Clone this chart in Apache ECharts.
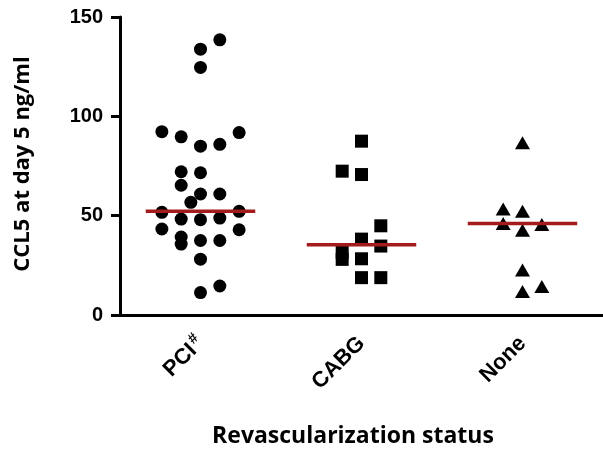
<!DOCTYPE html>
<html>
<head>
<meta charset="utf-8">
<script src="https://cdn.jsdelivr.net/npm/echarts@6/dist/echarts.min.js"></script>
<style>
  html, body { margin: 0; padding: 0; background: #fff; }
  #chart { width: 603px; height: 455px; }
</style>
</head>
<body>
<div id="chart"></div>
<script>
// groups on the x axis
const categories = ['PCI#', 'CABG', 'None'];
const yTicks = [0, 50, 100, 150];

// CCL5 values, with the column each dot sits in
const pciValues = [138.5, 133.8, 124.6, 92.3, 89.7, 85.0, 85.9, 91.8, 72.1, 71.6, 65.3, 60.9, 60.9, 56.7,
  51.7, 52.2, 48.3, 48.0, 48.8, 43.3, 42.9, 39.2, 35.7, 37.5, 37.5, 28.1, 14.6, 11.3];
const pciJitter = [1, 0, 0, -2, -1, 0, 1, 2, -1, 0, -1, 0, 1, -0.5,
  -2, 2, -1, 0, 1, -2, 2, -1, -1, 0, 1, 0, 1, 0];

const cabgValues = [87.5, 72.4, 70.7, 44.9, 38.2, 34.7, 31.5, 28.0, 28.3, 18.8, 18.8];
const cabgJitter = [0, -1, 0, 1, 0, 1, -1, -1, 0, 0, 1];

const noneValues = [86.7, 53.4, 52.2, 46.0, 45.5, 42.6, 22.7, 14.3, 11.8];
const noneJitter = [0, -1, 0, -1, 1, 0, 0, 1, 0];

const medians = [52.2, 35.3, 46.0];

const COL = 0.12;   // width of a jitter column, in category units
const HALF = 0.34;  // half length of the median bar

function points(idx, vals, jit) {
  return vals.map((v, i) => [idx + jit[i] * COL, v]);
}

const chart = echarts.init(document.getElementById('chart'));

const boldAxis = { fontFamily: 'Liberation Sans', fontWeight: 'bold', fontSize: 19, color: '#000' };
const axisLine = { onZero: false, lineStyle: { color: '#000', width: 3 } };
const dot = { color: '#000', opacity: 1 };

const option = {
  animation: false,
  grid: { left: 120, top: 17, width: 486, bottom: 140 },
  xAxis: [
    {
      type: 'category',
      data: categories,
      axisLine: axisLine,
      axisTick: { alignWithLabel: true, length: 9, lineStyle: { width: 3, color: '#000' } },
      axisLabel: {
        rotate: 45,
        margin: 25,
        formatter: v => v.endsWith('#') ? '{a|' + v.slice(0, -1) + '}{s|#}' : '{a|' + v + '}',
        rich: {
          a: Object.assign({}, boldAxis, { fontSize: 22 }),
          s: { fontFamily: 'Liberation Sans', fontWeight: 'bold', fontSize: 15, color: '#000', verticalAlign: 'top', padding: [0, 0, 12, 2] }
        }
      },
      splitLine: { show: false }
    },
    {
      type: 'value',
      min: -0.5,
      max: 2.5,
      show: false
    }
  ],
  yAxis: {
    type: 'value',
    min: yTicks[0],
    max: yTicks[yTicks.length - 1],
    interval: 50,
    axisLine: Object.assign({ show: true }, axisLine),
    axisTick: { show: true, length: 9, lineStyle: { width: 3, color: '#000' } },
    axisLabel: Object.assign({ margin: 17 }, boldAxis, { fontSize: 20 }),
    splitLine: { show: false }
  },
  series: [
    {
      type: 'scatter', xAxisIndex: 1, symbol: 'circle', symbolSize: 13,
      itemStyle: dot, data: points(0, pciValues, pciJitter)
    },
    {
      type: 'scatter', xAxisIndex: 1, symbol: 'rect', symbolSize: 13,
      itemStyle: dot, data: points(1, cabgValues, cabgJitter)
    },
    {
      type: 'scatter', xAxisIndex: 1, symbol: 'triangle', symbolSize: [15, 13],
      itemStyle: dot, data: points(2, noneValues, noneJitter)
    },
    {
      type: 'custom', xAxisIndex: 1, z: 10,
      data: medians.map((m, i) => [i, m]),
      renderItem: (params, api) => {
        const x = api.value(0), y = api.value(1);
        const p1 = api.coord([x - HALF, y]);
        const p2 = api.coord([x + HALF, y]);
        return {
          type: 'line',
          shape: { x1: p1[0], y1: p1[1], x2: p2[0], y2: p2[1] },
          style: { stroke: '#a31b1b', lineWidth: 3.5 }
        };
      }
    }
  ],
  graphic: [
    {
      type: 'text', x: 23, y: 164, rotation: Math.PI / 2,
      style: {
        text: 'CCL5 at day 5 ng/ml', fontFamily: 'Open Sans', fontWeight: 'bold', fontSize: 22, fill: '#000',
        align: 'center', verticalAlign: 'middle'
      }
    },
    {
      type: 'text', x: 353, y: 436,
      style: {
        text: 'Revascularization status', fontFamily: 'Open Sans', fontWeight: 'bold', fontSize: 23, fill: '#000',
        align: 'center', verticalAlign: 'middle'
      }
    }
  ]
};

chart.setOption(option);
</script>
</body>
</html>
